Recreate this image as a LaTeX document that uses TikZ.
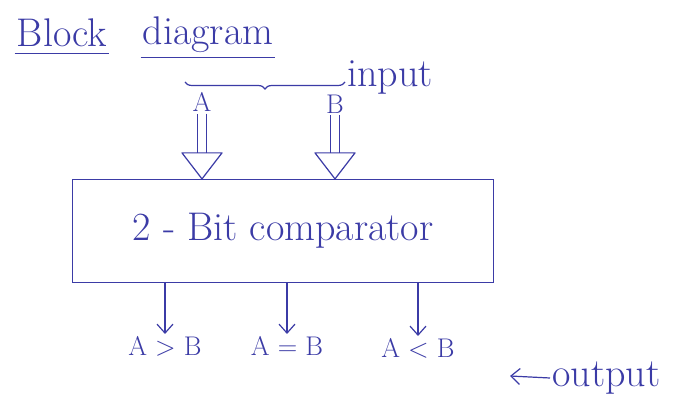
\documentclass[tikz,border=0pt]{standalone}
\usepackage{tikz}
\usetikzlibrary{arrows.meta,decorations.pathreplacing}
\definecolor{ink}{HTML}{3B3BA6}

\begin{document}
\begin{tikzpicture}[x=1pt,y=-1pt,
    hand/.style={ink,font=\fontsize{40}{46}\selectfont,inner sep=2pt},
    small/.style={ink,font=\fontsize{27}{32}\selectfont,inner sep=2pt},
    inshaft/.style={ink,line width=1.2pt,double distance=8pt,shorten >=26pt},
    inhead/.style={ink,line width=1.2pt,line join=round},
    outarrow/.style={ink,line width=1.2pt,-{Straight Barb[length=9pt,width=16pt]}}]
  \useasboundingbox[fill=white] (0,0) rectangle (696,419);
  % title
  \node[hand] (blk) at (62,33) {Block};
  \node[hand] (diag) at (208,35) {diagram};
  \draw[ink,line width=1.2pt] ([yshift=-4pt]blk.south west) -- ([yshift=-4pt]blk.south east);
  \draw[ink,line width=1.2pt] ([yshift=-2pt]diag.south west) -- ([yshift=-2pt]diag.south east);
  % inputs
  \coordinate (brL) at (345,82);
  \coordinate (brR) at (185,82);
  \draw[ink,line width=1.2pt,decorate,decoration={brace,amplitude=7pt}] (brL) -- (brR);
  \node[hand,anchor=west] (inp) at (345,78) {input};
  \node[small] (lblA) at (202,102) {A};
  \node[small] (lblB) at (335,104) {B};
  % comparator
  \node[draw,hand,line width=1.2pt,minimum width=421pt,minimum height=103pt] (comp) at (283,231) {2 - Bit comparator};
  \coordinate (tipA) at (lblA.south |- comp.north);
  \coordinate (tipB) at (lblB.south |- comp.north);
  \draw[inshaft] (lblA.south) -- (tipA);
  \draw[inshaft] (lblB.south) -- (tipB);
  \foreach \t in {tipA,tipB}
    \draw[inhead] ([xshift=-20pt,yshift=26pt]\t) -- (\t) -- ([xshift=20pt,yshift=26pt]\t) -- cycle;
  % outputs
  \node[small,anchor=north] (gt) at (165,334) {A > B};
  \node[small,anchor=north] (eq) at (287,334) {A = B};
  \node[small,anchor=north] (lt) at (418,336) {A < B};
  \draw[outarrow] (gt.north |- comp.south) -- (gt.north);
  \draw[outarrow] (eq.north |- comp.south) -- (eq.north);
  \draw[outarrow] (lt.north |- comp.south) -- (lt.north);
  \node[hand,anchor=west] (out) at (550,378) {output};
  \coordinate (outend) at (510,376);
  \draw[outarrow] (out.west) -- (outend);
\end{tikzpicture}
\end{document}
